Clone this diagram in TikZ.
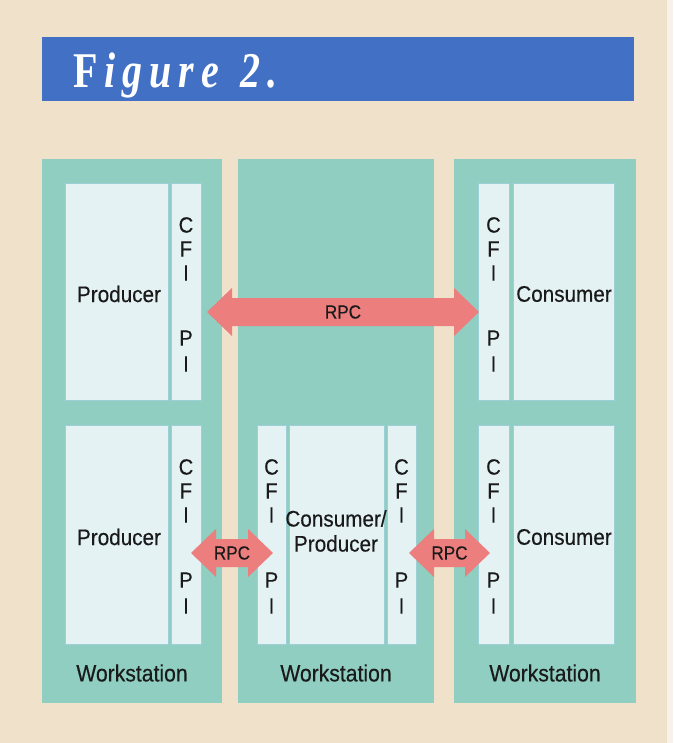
\documentclass[tikz,border=0pt]{standalone}
\usepackage{fontspec}
\setmainfont{Liberation Sans}
\newfontfamily\labelfont{Liberation Sans}[FakeStretch=0.92,FakeBold=0.35]
\newfontfamily\wsfont{Liberation Sans}[FakeStretch=0.9,FakeBold=0.35]
\newfontfamily\rpcfont{Liberation Sans}[FakeStretch=0.9,FakeBold=0.35]
\newfontfamily\titlefont{Liberation Serif}[FakeStretch=0.8]
\usetikzlibrary{calc}
\definecolor{bgbeige}{HTML}{F0E1CA}
\definecolor{bgedge}{HTML}{F8F2EA}
\definecolor{bannerblue}{HTML}{4170C4}
\definecolor{wsteal}{HTML}{8FCEC0}
\definecolor{boxfill}{HTML}{E4F2F4}
\definecolor{boxline}{HTML}{9CCFD6}
\definecolor{rpcpink}{HTML}{EC7E7E}
\definecolor{ink}{HTML}{1A1A1A}
\tikzset{
  wsbox/.style={fill=wsteal, draw=none, inner sep=0pt, outer sep=0pt},
  swbox/.style={fill=boxfill, draw=boxline, line width=0.8pt, inner sep=0pt, outer sep=0pt},
  lbl/.style={text=ink, inner sep=0pt, font=\labelfont\fontsize{22.5}{25}\selectfont, align=center},
  letter/.style={text=ink, inner sep=0pt, font=\labelfont\fontsize{22}{24}\selectfont},
  wslbl/.style={text=ink, inner sep=0pt, font=\wsfont\fontsize{23.5}{26}\selectfont},
  rpclbl/.style={text=ink, inner sep=0pt, font=\rpcfont\fontsize{19}{20}\selectfont},
  rpcfill/.style={fill=rpcpink, draw=none}
}
% rectangle node from corner coordinates
\newcommand\rectnode[7]{%
  \node[#6, minimum width={#4-#2}, minimum height={#5-#3}] (#1) at ({(#2+#4)/2},{(#3+#5)/2}) {#7};}
% C F I / P I letters in a strip
\newcommand\cfiletters[3]{%
  \node[letter] (#1-c) at (#2,#3+42) {C};
  \node[letter] (#1-f) at (#2,#3+66) {F};
  \node[letter] (#1-i) at (#2,#3+90) {I};
  \node[letter] (#1-p) at (#2,#3+155) {P};
  \node[letter] (#1-j) at (#2,#3+181) {I};}
% double RPC arrow between two tip coordinates
\newcommand\rpcarrow[2]{%
  \fill[rpcfill] (#1) -- ++(25,-24) -- ++(0,10) -- ($(#2)+(-25,-14)$) -- ++(0,-10)
    -- (#2) -- ++(-25,24) -- ++(0,-10) -- ($(#1)+(25,14)$) -- ++(0,10) -- cycle;}
\newcommand\tsp{\hspace{7pt}}
\begin{document}
\begin{tikzpicture}[x=1pt,y=-1pt]
% background
\fill[bgbeige] (0,0) rectangle (673,743);
\fill[bgedge] (667,0) rectangle (673,743);
\useasboundingbox (0,0) rectangle (673,743);
% banner
\rectnode{banner}{42}{37}{634}{101}{fill=bannerblue, inner sep=0pt}{}
\node[anchor=base west, text=white, inner sep=0pt] (title) at (73,88)
  {\titlefont\fontsize{50}{50}\selectfont\bfseries F\tsp\itshape i\tsp g\tsp u\tsp r\tsp e\hspace{21pt}2\tsp .};
% workstations
\rectnode{ws1}{42}{159}{222}{703}{wsbox}{}
\rectnode{ws2}{238}{159}{434}{703}{wsbox}{}
\rectnode{ws3}{454}{159}{636}{703}{wsbox}{}
% upper row
\rectnode{prod1}{65}{183}{168}{400}{swbox}{}
\rectnode{cfi1}{171}{183}{201}{400}{swbox}{}
\rectnode{cfi3}{478}{183}{509}{400}{swbox}{}
\rectnode{cons1}{513}{183}{614}{400}{swbox}{}
% lower row
\rectnode{prod2}{65}{425}{168}{644}{swbox}{}
\rectnode{cfi2}{171}{425}{201}{644}{swbox}{}
\rectnode{cfim1}{257}{425}{286}{644}{swbox}{}
\rectnode{cp}{289}{425}{384}{644}{swbox}{}
\rectnode{cfim2}{387}{425}{416}{644}{swbox}{}
\rectnode{cfi4}{478}{425}{509}{644}{swbox}{}
\rectnode{cons2}{513}{425}{614}{644}{swbox}{}
% labels in boxes
\node[lbl] (tprod1) at (119,294) {Producer};
\node[lbl] (tcons1) at (564,294) {Consumer};
\node[lbl] (tprod2) at (119,537) {Producer};
\node[lbl] (tcons2) at (564,537) {Consumer};
\node[lbl] (tcp) at (336,531) {Consumer/\\Producer};
\cfiletters{l1}{186}{183}
\cfiletters{l3}{493.5}{183}
\cfiletters{l2}{186}{425}
\cfiletters{lm1}{271.5}{425}
\cfiletters{lm2}{401.5}{425}
\cfiletters{l4}{493.5}{425}
% workstation labels
\node[wslbl] (w1) at (ws1.center |- 0,673) {Workstation};
\node[wslbl] (w2) at (ws2.center |- 0,673) {Workstation};
\node[wslbl] (w3) at (ws3.center |- 0,673) {Workstation};
% RPC arrows
\coordinate (a1l) at (207,312);
\coordinate (a1r) at (479,312);
\coordinate (a2l) at (191,553);
\coordinate (a2r) at (273,553);
\coordinate (a3l) at (409,553);
\coordinate (a3r) at (490,553);
\rpcarrow{a1l}{a1r}
\rpcarrow{a2l}{a2r}
\rpcarrow{a3l}{a3r}
\node[rpclbl] (r1) at ($(a1l)!0.5!(a1r)$) {RPC};
\node[rpclbl] (r2) at ($(a2l)!0.5!(a2r)$) {RPC};
\node[rpclbl] (r3) at ($(a3l)!0.5!(a3r)$) {RPC};
\end{tikzpicture}
\end{document}
